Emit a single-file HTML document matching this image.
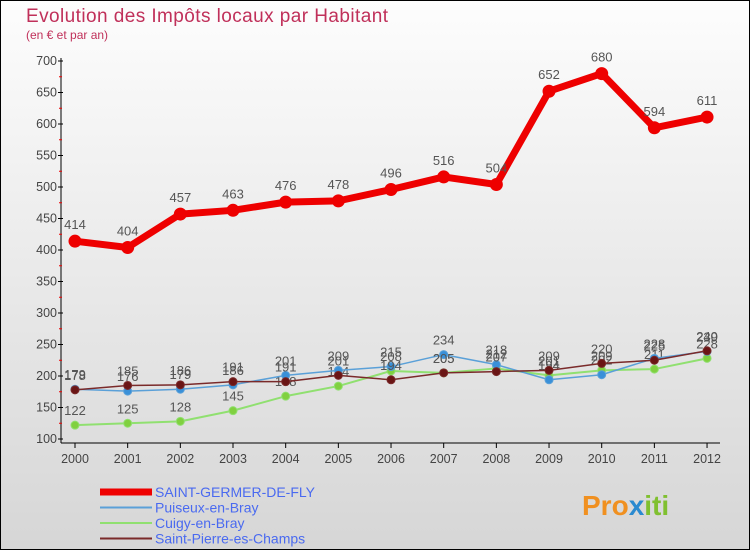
<!DOCTYPE html>
<html><head><meta charset="utf-8"><style>
body{margin:0;width:750px;height:550px;overflow:hidden;font-family:"Liberation Sans",sans-serif}
svg{display:block}
</style></head><body>
<svg id="c" width="750" height="550" viewBox="0 0 750 550" xmlns="http://www.w3.org/2000/svg">
<defs><linearGradient id="bg" x1="0" y1="0" x2="0" y2="1"><stop offset="0" stop-color="#fdfdfd"/><stop offset="1" stop-color="#d6d6d6"/></linearGradient></defs>
<rect x="0.5" y="0.5" width="749" height="549" fill="url(#bg)" stroke="#000"/>
<text x="26" y="22" font-size="19" fill="#c0305a" textLength="362">Evolution des Impôts locaux par Habitant</text>
<text x="26" y="39" font-size="12" fill="#c0305a">(en € et par an)</text>
<g id="axes"></g><g id="series"></g><g id="legend"></g>
<text x="582" y="515" font-size="28" font-weight="bold" fill="#f09020">Pro<tspan fill="#2a8ad0">x</tspan><tspan fill="#80c030">iti</tspan></text>
</svg>
<script>
const years=["2000","2001","2002","2003","2004","2005","2006","2007","2008","2009","2010","2011","2012"];
const yTicks=[100,150,200,250,300,350,400,450,500,550,600,650,700];
const saintGermer=[414,404,457,463,476,478,496,516,504,652,680,594,611];
const puiseux=[179,176,179,186,201,209,215,234,218,194,202,228,239];
const cuigy=[122,125,128,145,168,184,208,205,212,201,209,211,228];
const saintPierre=[178,185,186,191,191,201,194,205,207,209,220,225,240];
const NS="http://www.w3.org/2000/svg";
const x=i=>75+i*52.67, y=v=>439-(v-100)*0.63;
function mk(t,a,p){const e=document.createElementNS(NS,t);for(const k in a)e.setAttribute(k,a[k]);p.appendChild(e);return e;}
const ax=document.getElementById('axes');
let l=mk('line',{x1:61,y1:58,x2:61,y2:443,stroke:'#000'},ax);

l=mk('line',{x1:61,y1:443,x2:720,y2:443,stroke:'#000'},ax);

yTicks.forEach(v=>{mk('line',{x1:58,y1:y(v),x2:63,y2:y(v),stroke:'#000'},ax);
if(v<700)mk('line',{x1:59,y1:y(v+25),x2:62,y2:y(v+25),stroke:'#e00'},ax);
const t=mk('text',{x:57,y:y(v)+4,'font-size':12.5,'text-anchor':'end',fill:'#444'},ax);t.textContent=v;
});
years.forEach((yr,i)=>{mk('line',{x1:x(i),y1:443,x2:x(i),y2:448,stroke:'#000'},ax);
const t=mk('text',{x:x(i),y:463,'font-size':12.5,'text-anchor':'middle',fill:'#444'},ax);t.textContent=yr;
});
const sg=document.getElementById('series');
function series(d,col,w,r,name,fill){const g=mk('g',{},sg);

mk('polyline',{points:d.map((v,i)=>x(i)+','+y(v)).join(' '),fill:'none',stroke:col,'stroke-width':w,'stroke-linejoin':'round'},g);
d.forEach((v,i)=>{const c=mk('circle',{cx:x(i),cy:y(v),r:r,fill:fill,stroke:col,'stroke-width':1},g);

const t=mk('text',{x:x(i),y:y(v)-(r+6),'font-size':13,'text-anchor':'middle',fill:'#555'},g);t.textContent=v;
});}
series(cuigy,'#90e070',2,4,'series-cuigy','#80d040');
series(puiseux,'#5aa0d8',1.5,4,'series-puiseux','#3a90d8');
series(saintPierre,'#7a2a2a',1.5,4,'series-saint-pierre','#6a1515');
series(saintGermer,'#ee0000',7,6,'series-saint-germer','#ee0000');
const lg=document.getElementById('legend');
[["SAINT-GERMER-DE-FLY",'#ee0000',7],["Puiseux-en-Bray",'#5aa0d8',2],["Cuigy-en-Bray",'#90e070',2],["Saint-Pierre-es-Champs",'#7a2a2a',2]].forEach((e,i)=>{
const yy=492+i*15.5;const g=mk('g',{},lg);

mk('line',{x1:100,y1:yy,x2:152,y2:yy,stroke:e[1],'stroke-width':e[2]},g);
const t=mk('text',{x:155,y:yy+5,'font-size':14,fill:'#4a6af0'},g);t.textContent=e[0];});
</script>
</body></html>
